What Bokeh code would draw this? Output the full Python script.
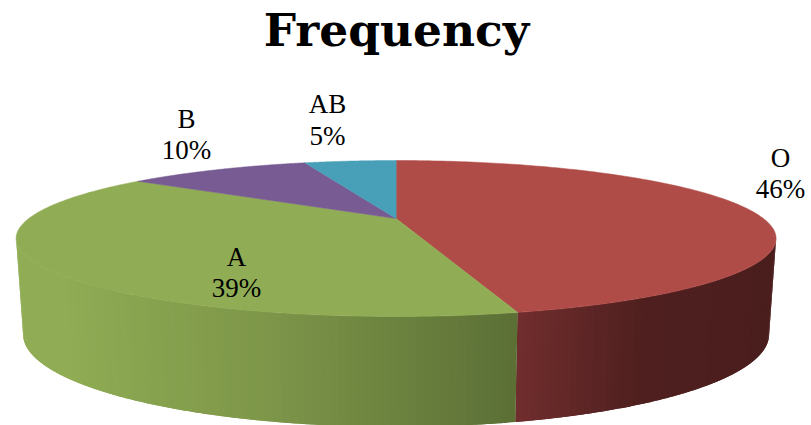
import numpy as np
from bokeh.core.properties import value
from bokeh.embed import file_html
from bokeh.plotting import figure
from bokeh.resources import INLINE

# Blood group shares, clockwise from twelve o'clock
groups = ["O", "A", "B", "AB"]
shares = [46, 39, 10, 5]
percent_labels = ["46%", "39%", "10%", "5%"]
title_text = "Frequency"

top_colors = ["#B04C48", "#90AD55", "#775B92", "#489FB8"]
label_centres = [780, 236, 186, 327]
label_name_rows = [157, 256, 118, 103]
label_pct_rows = [188, 287, 149, 135]

LABEL_SIZE = 27
TITLE_SIZE = 45.5

# Perspective of the disc: far edge is foreshortened relative to the near edge
CX, TILT = 395.6, 40 / 156
TOP = dict(a=367.3, b=72.87, y0=218.0)
BOTTOM = dict(a=360.5, b=86.3, y0=310.3)

# Side wall shading stops (x position, rgb) for the two visible slices
WALL_SHADES = {
    "O": [(517, (114, 46, 46)), (650, (78, 31, 30)), (776, (75, 30, 30))],
    "A": [(16, (144, 173, 85)), (65, (144, 173, 85)), (110, (139, 167, 81)),
          (270, (125, 150, 73)), (517, (92, 112, 54))],
}


def project(theta, disc):
    """Map an angle on the circular disc to page coordinates."""
    w = 1 + TILT * np.cos(theta)
    return CX + disc["a"] * np.sin(theta) / w, disc["y0"] - disc["b"] * np.cos(theta) / w


def shade(stops, x):
    xs = [s[0] for s in stops]
    channels = [np.interp(x, xs, [s[1][i] for s in stops]) for i in range(3)]
    return "#%02x%02x%02x" % tuple(int(round(c)) for c in channels)


edges = 2 * np.pi * np.cumsum([0] + shares) / sum(shares)

p = figure(width=811, height=425, x_range=(0, 811), y_range=(425, 0),
           output_backend="svg", toolbar_location=None, min_border=0,
           outline_line_color=None, background_fill_color="white")
p.axis.visible = False
p.grid.visible = False

# The near side of the disc is visible between the two silhouette angles.
# Each band overlaps the next one, so no white seams show through.
limit = np.arccos(-TILT)
wall_xs, wall_ys, wall_colors = [], [], []
for name, start, stop in zip(groups, edges[:-1], edges[1:]):
    lo, hi = max(start, limit), min(stop, 2 * np.pi - limit)
    if hi <= lo or name not in WALL_SHADES:
        continue
    steps = int(np.degrees(hi - lo))
    cuts = np.linspace(lo, hi, steps + 1)
    for i in range(steps):
        arc = np.linspace(cuts[i], cuts[min(i + 2, steps)], 6)
        x_top, y_top = project(arc, TOP)
        x_bot, y_bot = project(arc[::-1], BOTTOM)
        wall_xs.append(np.concatenate([x_top, x_bot]).tolist())
        wall_ys.append(np.concatenate([y_top, y_bot]).tolist())
        wall_colors.append(shade(WALL_SHADES[name], project(cuts[i], TOP)[0]))
p.patches(wall_xs, wall_ys, fill_color=wall_colors, line_color=None)

# Upper face: each slice runs from the projected centre out along its rim
face_xs, face_ys = [], []
for start, stop in zip(edges[:-1], edges[1:]):
    arc = np.linspace(start, stop, 181)
    x_rim, y_rim = project(arc, TOP)
    face_xs.append([CX] + x_rim.tolist())
    face_ys.append([TOP["y0"]] + y_rim.tolist())
p.patches(face_xs, face_ys, fill_color=top_colors, line_color=top_colors, line_width=0.5)

label_font = value("Liberation Serif")
p.text(label_centres, label_name_rows, text=groups, text_font=label_font,
       text_font_size=f"{LABEL_SIZE}px", text_color="black", text_align="center",
       text_baseline="alphabetic")
p.text(label_centres, label_pct_rows, text=percent_labels, text_font=label_font,
       text_font_size=f"{LABEL_SIZE}px", text_color="black", text_align="center",
       text_baseline="alphabetic")
p.text([396], [29], text=[title_text], text_font=value("DejaVu Serif"), text_font_style="bold",
       text_font_size=f"{TITLE_SIZE}px", text_color="black", text_align="center",
       text_baseline="alphabetic")

open("out.html", "w").write(file_html(p, INLINE))
